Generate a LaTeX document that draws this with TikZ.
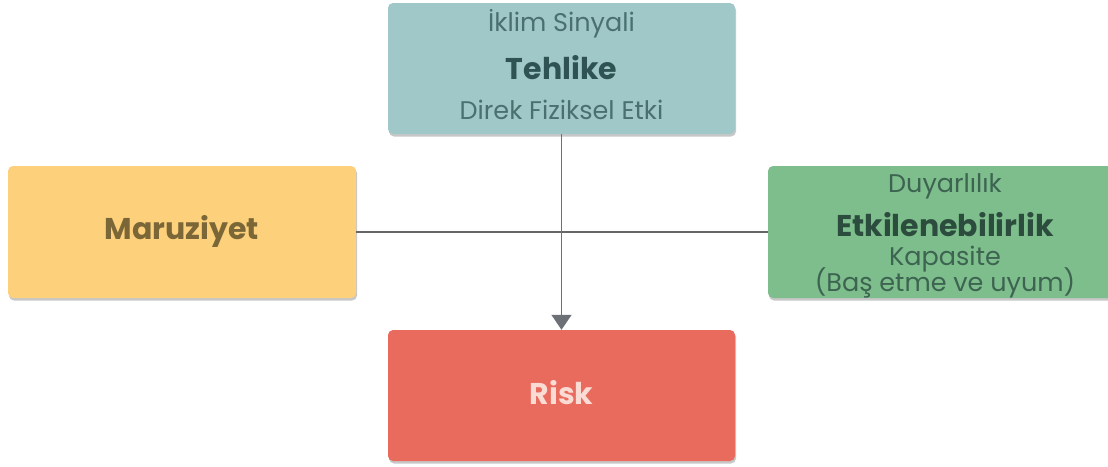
\documentclass[tikz,border=0pt]{standalone}
\usepackage{fontspec}
\setmainfont{Poppins}
\usetikzlibrary{arrows.meta}
\definecolor{tealbox}{HTML}{A0C8C9}
\definecolor{tealtxt}{HTML}{2E5352}
\definecolor{teallt}{HTML}{4A706F}
\definecolor{yelbox}{HTML}{FDD07B}
\definecolor{yeltxt}{HTML}{7B6637}
\definecolor{grnbox}{HTML}{7EBD8C}
\definecolor{grntxt}{HTML}{2C4D3E}
\definecolor{grnlt}{HTML}{3C6450}
\definecolor{redbox}{HTML}{E96B5E}
\definecolor{redtxt}{HTML}{FBDCD5}
\definecolor{linec}{HTML}{666666}
\definecolor{arrowc}{HTML}{6D7177}
\tikzset{
  card/.style={rounded corners=5pt, inner sep=0pt, draw=none},
  shade/.style={fill=black, opacity=0.22, rounded corners=5pt},
  lighttxt/.style={font=\fontsize{25.5}{27}\selectfont, inner sep=0pt},
  boldtxt/.style={font=\fontsize{30}{32}\selectfont\bfseries, inner sep=0pt},
  conn/.style={draw=linec, line width=1.4pt}
}
\begin{document}
\begin{tikzpicture}[x=1pt,y=-1pt]
\useasboundingbox (0,0) rectangle (1108,466);
\fill[white] (0,0) rectangle (1108,466);
% shadows
\fill[shade] (389,5) rectangle (736,136.5);
\fill[shade] (9,168) rectangle (357,300.5);
\fill[shade] (769,168) rectangle (1116,300.5);
\fill[shade] (389,332) rectangle (736,463.5);
% boxes
\node[card, fill=tealbox, minimum width=347pt, minimum height=131pt] (teh) at (561.5,68.5) {};
\node[card, fill=yelbox, minimum width=348pt, minimum height=132pt] (mar) at (182,232) {};
\node[card, fill=grnbox, minimum width=346pt, minimum height=132pt] (etk) at (941,232) {};
\node[card, fill=redbox, minimum width=347pt, minimum height=131pt] (risk) at (561.5,395.5) {};
% connectors
\draw[conn] (mar.east) -- (etk.west);
\draw[conn, -{Triangle[width=20pt,length=15pt]}, arrowc] (teh.south) -- (risk.north);
% texts
\node[lighttxt, text=teallt] (t1) at (561.5,24) {İklim Sinyali};
\node[boldtxt, text=tealtxt] (t2) at (561.5,68) {Tehlike};
\node[lighttxt, text=teallt] (t3) at (561.5,110) {Direk Fiziksel Etki};
\node[boldtxt, text=yeltxt] (m1) at (182,231) {Maruziyet};
\node[lighttxt, text=grnlt] (e1) at (945,186) {Duyarlılık};
\node[boldtxt, text=grntxt] (e2) at (945,225) {Etkilenebilirlik};
\node[lighttxt, text=grnlt] (e3) at (945,259) {Kapasite};
\node[lighttxt, text=grnlt] (e4) at (945,283) {(Baş etme ve uyum)};
\node[boldtxt, text=redtxt] (r1) at (561.5,393) {Risk};
\end{tikzpicture}
\end{document}
